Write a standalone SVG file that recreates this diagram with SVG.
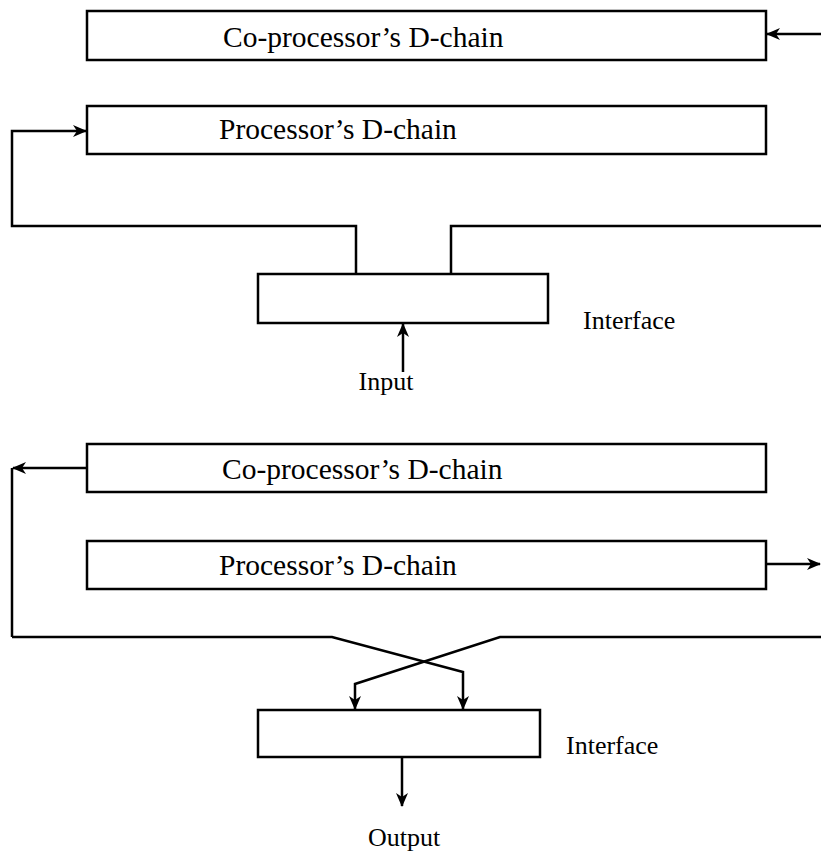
<svg xmlns="http://www.w3.org/2000/svg" width="821" height="853" viewBox="0 0 821 853">
  <style>
    .box { fill: none; stroke: #000; stroke-width: 2.5; }
    .wire { fill: none; stroke: #000; stroke-width: 2.5; }
    .lbl { font-family: "Liberation Serif", "Times New Roman", serif; font-size: 29.5px; fill: #000; }
    .side { font-family: "Liberation Serif", "Times New Roman", serif; font-size: 26px; fill: #000; }
  </style>
  <defs>
    <marker id="arrow" viewBox="0 0 14 12" refX="13" refY="6" markerWidth="14" markerHeight="12" markerUnits="userSpaceOnUse" orient="auto">
      <path d="M0,0 L14,6 L0,12 L4,6 Z" fill="#000"/>
    </marker>
  </defs>
  <rect width="821" height="853" fill="#fff"/>

  <!-- upper arrangement: input side -->
  <g id="coproc-top">
    <rect class="box" x="87" y="11" width="679" height="49"/>
    <text class="lbl" x="223" y="47">Co-processor’s D-chain</text>
  </g>
  <g id="proc-top">
    <rect class="box" x="87" y="106" width="679" height="48"/>
    <text class="lbl" x="219" y="139">Processor’s D-chain</text>
  </g>
  <g id="interface-top">
    <rect class="box" x="258" y="274" width="290" height="49"/>
    <text class="side" x="583" y="329">Interface</text>
  </g>
  <g id="input-label">
    <text class="side" x="386" y="390" text-anchor="middle">Input</text>
  </g>

  <!-- lower arrangement: output side -->
  <g id="coproc-bottom">
    <rect class="box" x="87" y="444" width="679" height="48"/>
    <text class="lbl" x="222" y="479">Co-processor’s D-chain</text>
  </g>
  <g id="proc-bottom">
    <rect class="box" x="87" y="541" width="679" height="48"/>
    <text class="lbl" x="219" y="575">Processor’s D-chain</text>
  </g>
  <g id="interface-bottom">
    <rect class="box" x="258" y="710" width="282" height="47"/>
    <text class="side" x="566" y="754">Interface</text>
  </g>
  <g id="output-label">
    <text class="side" x="404" y="846" text-anchor="middle">Output</text>
  </g>

  <g id="connectors">
    <!-- input side -->
    <line class="wire" x1="821" y1="34" x2="767" y2="34" marker-end="url(#arrow)"/>
    <polyline class="wire" points="356,274 356,226 12,226 12,131 86,131" marker-end="url(#arrow)"/>
    <polyline class="wire" points="451,274 451,226 821,226"/>
    <line class="wire" x1="403" y1="372" x2="403" y2="324" marker-end="url(#arrow)"/>
    <!-- output side -->
    <line class="wire" x1="87" y1="468" x2="13" y2="468" marker-end="url(#arrow)"/>
    <line class="wire" x1="12" y1="468" x2="12" y2="637"/>
    <line class="wire" x1="766" y1="564" x2="820" y2="564" marker-end="url(#arrow)"/>
    <polyline class="wire" points="12,637 332,637 463,672 463,709" marker-end="url(#arrow)"/>
    <polyline class="wire" points="821,637 500,637 355,684 355,709" marker-end="url(#arrow)"/>
    <line class="wire" x1="402" y1="757" x2="402" y2="806" marker-end="url(#arrow)"/>
  </g>
</svg>
